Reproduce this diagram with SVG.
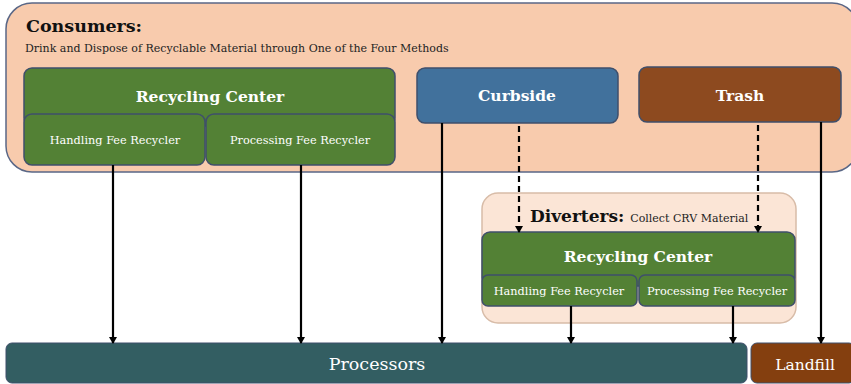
<svg xmlns="http://www.w3.org/2000/svg" width="851" height="384" viewBox="0 0 851 384">
<defs>
<style>
text{font-family:"DejaVu Serif","Liberation Serif",serif;}
.w{fill:#fff;text-anchor:middle;}
.b{font-weight:bold;}
.green{fill:#538135;stroke:#3f4f6b;stroke-width:1.5;}
.ln{stroke:#000;stroke-width:2.2;fill:none;marker-end:url(#ah);}
.dl{stroke:#000;stroke-width:2.2;fill:none;stroke-dasharray:6,4;marker-end:url(#ah);}
</style>
<marker id="ah" markerWidth="8" markerHeight="8" refX="6" refY="4" orient="auto" markerUnits="userSpaceOnUse">
<path d="M0,0 L7,4 L0,8 Z" fill="#000"/>
</marker>
</defs>
<rect width="851" height="384" fill="#fff"/>
<g id="consumers">
<rect x="6" y="3" width="852" height="169" rx="26" fill="#f8cbad" stroke="#5a6786" stroke-width="1.5"/>
<text x="26" y="32" font-size="17.5" class="b" fill="#111">Consumers:</text>
<text x="25" y="52" font-size="11" fill="#222">Drink and Dispose of Recyclable Material through One of the Four Methods</text>
</g>
<g id="recycling-center-1">
<rect x="24" y="68" width="371" height="58" rx="8" class="green"/>
<text x="210" y="102" font-size="15.5" class="w b">Recycling Center</text>
</g>
<g id="handling-1">
<rect x="24" y="114" width="181" height="51" rx="8" class="green"/>
<text x="115" y="144" font-size="11.3" class="w">Handling Fee Recycler</text>
</g>
<g id="processing-1">
<rect x="206" y="114" width="189" height="51" rx="8" class="green"/>
<text x="300" y="144" font-size="11.3" class="w">Processing Fee Recycler</text>
</g>
<g id="curbside">
<rect x="417" y="68" width="201" height="55" rx="8" fill="#41719c" stroke="#3f4f6b" stroke-width="1.5"/>
<text x="517" y="101" font-size="15.5" class="w b">Curbside</text>
</g>
<g id="trash">
<rect x="639" y="67" width="202" height="55" rx="8" fill="#8d4a1f" stroke="#3f4f6b" stroke-width="1.5"/>
<text x="740" y="101" font-size="15.5" class="w b">Trash</text>
</g>
<g id="diverters">
<rect x="482" y="193" width="314" height="130" rx="16" fill="#fbe5d6" stroke="#d8bca8" stroke-width="1.5"/>
<text x="530" y="222" font-size="17" class="b" fill="#111">Diverters: <tspan font-size="11" font-weight="normal" fill="#222">Collect CRV Material</tspan></text>
</g>
<g id="recycling-center-2">
<rect x="482" y="232" width="313" height="54" rx="8" class="green"/>
<text x="638" y="262" font-size="15.5" class="w b">Recycling Center</text>
</g>
<g id="handling-2">
<rect x="482" y="275" width="155" height="31" rx="6" class="green"/>
<text x="559" y="295" font-size="11.3" class="w">Handling Fee Recycler</text>
</g>
<g id="processing-2">
<rect x="639" y="275" width="156" height="31" rx="6" class="green"/>
<text x="717" y="295" font-size="11.3" class="w">Processing Fee Recycler</text>
</g>
<g id="processors">
<rect x="6" y="343" width="741" height="40" rx="6" fill="#335e62" stroke="#3f4f6b" stroke-width="1"/>
<text x="377" y="370" font-size="17.5" class="w">Processors</text>
</g>
<g id="landfill">
<rect x="751" y="343" width="104" height="40" rx="6" fill="#843f0f" stroke="#3f4f6b" stroke-width="1"/>
<text x="805" y="370" font-size="15.5" class="w">Landfill</text>
</g>
<g id="connectors">
<line x1="113" y1="165" x2="113" y2="343" class="ln"/>
<line x1="301" y1="165" x2="301" y2="343" class="ln"/>
<line x1="442" y1="123" x2="442" y2="343" class="ln"/>
<line x1="821" y1="122" x2="821" y2="343" class="ln"/>
<line x1="519" y1="126" x2="519" y2="232" class="dl"/>
<line x1="758" y1="125" x2="758" y2="232" class="dl"/>
<line x1="571" y1="306" x2="571" y2="343" class="ln"/>
<line x1="733" y1="306" x2="733" y2="343" class="ln"/>
</g>
</svg>
